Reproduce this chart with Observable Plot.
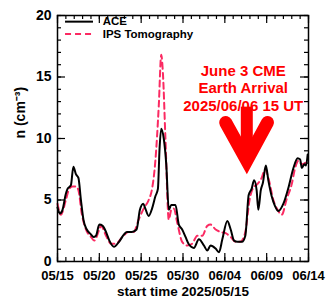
<!DOCTYPE html>
<html><head><meta charset="utf-8">
<script src="https://cdn.jsdelivr.net/npm/d3@7"></script>
<script src="https://cdn.jsdelivr.net/npm/@observablehq/plot@0.6"></script>
<style>body{margin:0;background:#fff}</style>
</head><body><div id="chart"></div>
<script>
// ---- data (days after 2025/05/15 00 UT) ----
const startDate = "2025-05-15";
const aceDay = [0,0.3,0.6,1.0,1.2,1.6,1.9,2.2,2.5,2.8,3.1,3.5,4.0,4.3,4.6,5.0,5.4,5.8,6.2,6.75,7.35,7.95,8.3,8.9,9.45,9.85,10.25,10.5,10.9,11.3,11.7,12.0,12.2,12.4,12.7,13.0,13.3,13.6,14.1,14.5,14.9,15.3,15.7,16.3,16.9,17.5,17.9,18.3,18.9,19.3,19.7,20.3,20.7,21.1,21.5,22.05,22.45,22.85,23.2,23.5,23.8,24.0,24.3,24.55,24.9,25.2,25.6,26.0,26.4,27.0,27.6,28.2,28.7,29.0,29.2,29.5,29.7,29.9];
const aceN = [4.4,3.9,4.2,5.5,5.9,6.2,7.7,7.1,6.8,5.0,3.4,2.6,2.2,2.0,2.1,3.0,2.9,2.4,1.7,1.2,1.6,2.2,2.4,2.4,2.6,4.2,4.7,4.3,3.7,4.3,5.3,5.9,9.2,10.8,10.0,7.9,4.2,4.6,4.6,3.0,2.6,2.0,1.4,1.1,1.8,1.3,0.9,1.3,1.05,0.75,1.8,3.3,2.6,1.7,1.6,1.6,2.1,5.4,5.9,6.6,5.8,4.2,5.8,6.4,7.8,6.6,5.3,4.5,4.1,4.7,6.0,7.6,8.4,8.3,7.6,7.9,7.8,8.7];
const ipsDay = [0,0.4,1.0,1.4,1.8,2.2,2.5,2.9,3.4,4.0,4.4,5.0,5.2,5.8,6.4,7.0,7.75,8.5,9.1,9.7,10.3,10.9,11.3,11.7,12.1,12.4,12.6,12.9,13.3,13.6,13.9,14.3,14.9,15.5,16.1,16.7,17.3,17.9,18.3,18.9,19.5,20.1,20.7,21.3,21.85,22.45,22.95,23.4,23.9,24.4,24.8,25.2,25.8,26.4,26.8,27.4,28.0,28.4,28.8,29.2,29.6,30.0];
const ipsN = [4.7,3.8,5.0,5.9,6.1,6.1,5.8,3.9,2.6,2.0,1.7,2.6,2.9,2.1,1.45,1.45,2.0,2.4,2.4,3.4,4.3,5.0,5.9,8.2,12.6,16.8,15.3,10.0,3.4,4.2,4.3,3.2,1.6,1.3,1.45,2.1,2.1,2.9,3.0,2.6,2.4,2.3,2.0,1.6,1.6,2.4,5.0,6.0,6.3,6.8,7.5,6.8,5.0,4.1,3.8,5.1,6.3,7.6,8.2,7.9,8.0,8.2];
const seriesNames = ["ACE", "IPS Tomography"];
const seriesColors = ["#000000", "#fb2a62"];
const xMajorTickDays = [0,5,10,15,20,25,30];
const yMajorTicks = [0,5,10,15,20];
const yTitle = "n (cm⁻³)";
const xTitle = "start time 2025/05/15";
const noteLines = ["June 3 CME", "Earth Arrival", "2025/06/06 15 UT"];
const arrivalDay = 22.625; // 2025/06/06 15 UT

// ---- build ----
const t0 = Date.parse(startDate + "T00:00:00Z");
const D = d => new Date(t0 + d * 864e5);
const ace = aceDay.map((d, i) => ({t: D(d), n: aceN[i]}));
const ips = ipsDay.map((d, i) => ({t: D(d), n: ipsN[i]}));
const minorX = d3.range(0, 31).map(D);
const majorX = xMajorTickDays.map(D);
const minorY = d3.range(0, 21);
const fmt = d3.utcFormat("%m/%d");

const W = 329, H = 304, mL = 57, mR = 21, mT = 15, mB = 43;
const fw = W - mL - mR, fh = H - mT - mB;
const red = "#ff0000";

const chart = Plot.plot({
  width: W, height: H,
  marginLeft: mL, marginRight: mR, marginTop: mT, marginBottom: mB,
  style: {fontFamily: "'Liberation Sans',Arial,sans-serif", fontWeight: "bold", fontSize: "13px", color: "#000", background: "#fff"},
  x: {type: "utc", domain: [D(0), D(30)]},
  y: {domain: [0, 20]},
  marks: [
    // axis labels
    Plot.axisX({ticks: majorX, tickSize: 0, tickPadding: 9, tickFormat: fmt, label: null, fontSize: 13}),
    Plot.axisY({ticks: yMajorTicks, tickSize: 0, tickPadding: 6, label: null, fontSize: 14}),
    // inward ticks (bottom/top)
    Plot.tickX(minorX, {x: d => d, insetTop: fh - 4, strokeWidth: 1.2}),
    Plot.tickX(majorX, {x: d => d, insetTop: fh - 8, strokeWidth: 1.2}),
    Plot.tickX(minorX, {x: d => d, insetBottom: fh - 4, strokeWidth: 1.2}),
    Plot.tickX(majorX, {x: d => d, insetBottom: fh - 8, strokeWidth: 1.2}),
    // inward ticks (left/right)
    Plot.tickY(minorY, {y: d => d, insetRight: fw - 4, strokeWidth: 1.2}),
    Plot.tickY(yMajorTicks, {y: d => d, insetRight: fw - 8, strokeWidth: 1.2}),
    Plot.tickY(minorY, {y: d => d, insetLeft: fw - 4, strokeWidth: 1.2}),
    Plot.tickY(yMajorTicks, {y: d => d, insetLeft: fw - 8, strokeWidth: 1.2}),
    // data
    Plot.line(ips, {x: "t", y: "n", stroke: seriesColors[1], strokeWidth: 2, strokeDasharray: "6,4", curve: "monotone-x"}),
    Plot.line(ace, {x: "t", y: "n", stroke: seriesColors[0], strokeWidth: 2, curve: "monotone-x"}),
    Plot.frame({stroke: "#000", strokeWidth: 1.5}),
    // legend
    Plot.ruleY([19.5], {x1: D(0.96), x2: D(4.3), stroke: seriesColors[0], strokeWidth: 2}),
    Plot.ruleY([18.5], {x1: D(0.96), x2: D(4.3), stroke: seriesColors[1], strokeWidth: 2, strokeDasharray: "6,4"}),
    Plot.text(seriesNames, {x: D(5.4), y: (d, i) => [19.5, 18.5][i], text: d => d, textAnchor: "start", fontSize: 11.5, fill: "#000"}),
    // axis titles
    Plot.text([xTitle], {frameAnchor: "bottom", dy: 34, fontSize: 13.5, fill: "#000"}),
    Plot.text([yTitle], {frameAnchor: "left", dx: -37, rotate: -90, fontSize: 14, fill: "#000"}),
    // annotation
    Plot.text(noteLines, {x: D(22.2), y: (d, i) => [15.5, 14.1, 12.6][i], text: d => d, fill: red, fontSize: 15, fontWeight: "bold"}),
    Plot.ruleX([D(arrivalDay)], {y1: 12.55, y2: 9.0, stroke: red, strokeWidth: 12}),
    Plot.line([[20.1, 11.3], [arrivalDay, 8.2], [25.1, 11.3]], {x: d => D(d[0]), y: d => d[1], stroke: red, strokeWidth: 13, strokeLinecap: "round", strokeLinejoin: "miter", strokeMiterlimit: 10})
  ]
});
document.getElementById("chart").appendChild(chart);
</script>
</body></html>
